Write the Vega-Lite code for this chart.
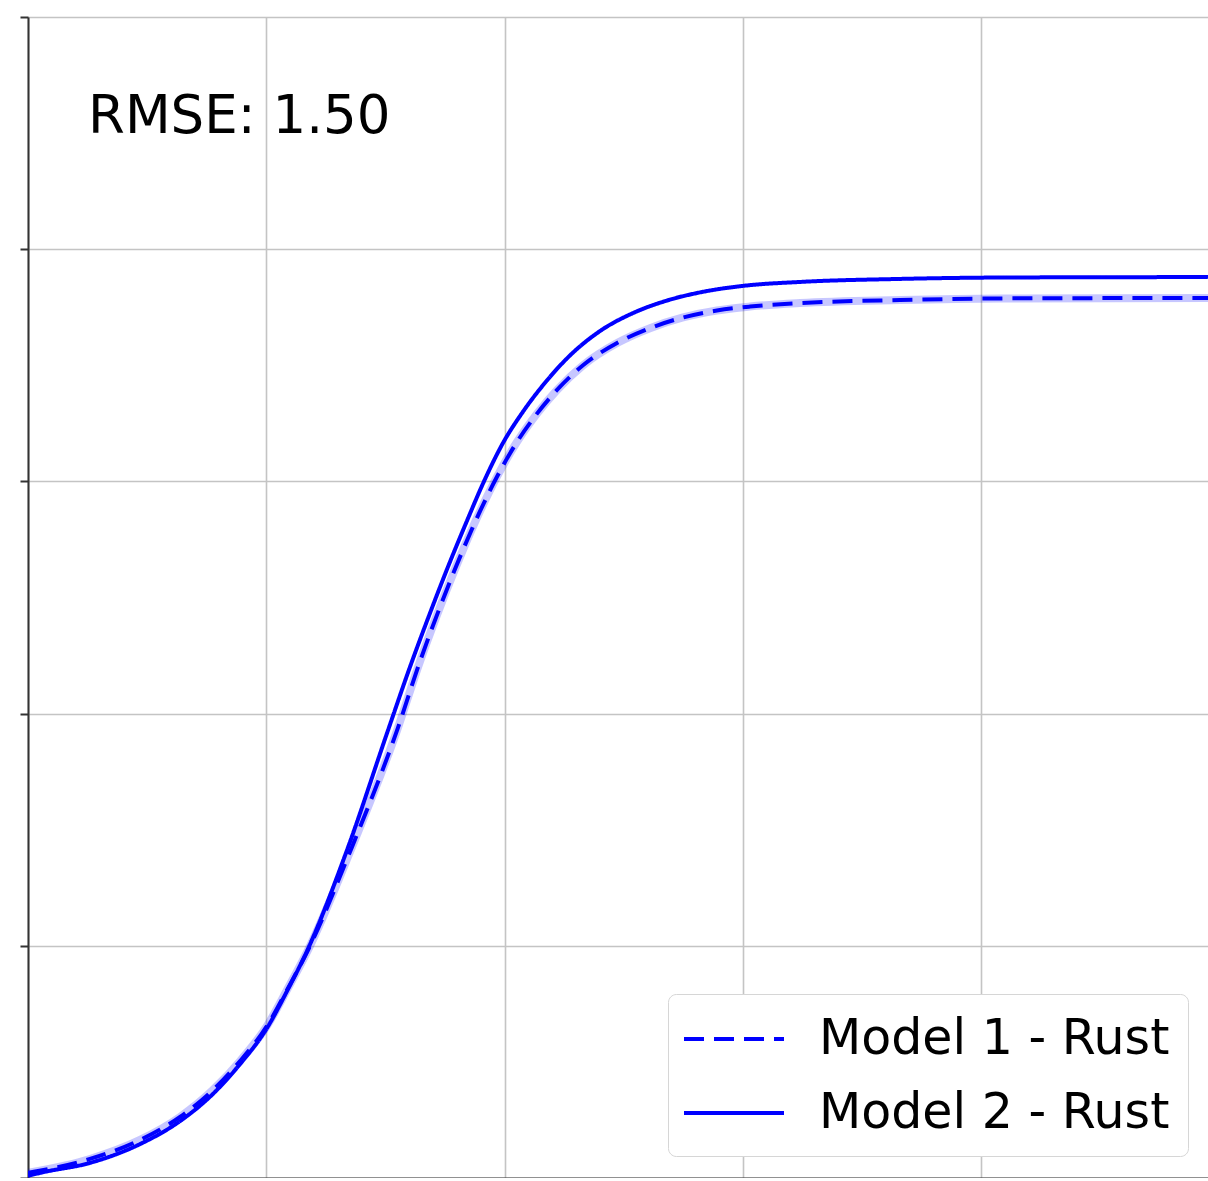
{
  "$schema": "https://vega.github.io/schema/vega-lite/v6.json",
  "autosize": {"type": "none"},
  "padding": {"left": 28, "top": 17, "right": 0, "bottom": 0},
  "width": 1180,
  "height": 1161,
  "background": "white",
  "config": {
    "view": {"stroke": null},
    "font": "DejaVu Sans",
    "axis": {
      "grid": true,
      "gridColor": "#c4c4c4",
      "gridWidth": 1.6,
      "labels": false,
      "ticks": true,
      "tickColor": "#333333",
      "tickSize": 8,
      "tickWidth": 2,
      "domainColor": "#333333",
      "domainWidth": 2,
      "title": null
    },
    "legend": {
      "orient": "none", "legendX": 640, "legendY": 977, "title": null,
      "symbolType": "M-2,0H2", "symbolSize": 2500, "symbolStrokeWidth": 4, "symbolOffset": 21,
      "labelFontSize": 49, "labelFont": "DejaVu Sans", "labelColor": "black", "labelLimit": 800,
      "labelOffset": 58, "rowPadding": 22, "padding": 18,
      "cornerRadius": 8, "strokeColor": "#d6d6d6", "fillColor": "white"
    }
  },
  "datasets": {
    "curves": [
      {"model": "Model 1 - Rust", "x": 0.0, "y": 0.022},
      {"model": "Model 1 - Rust", "x": 0.26, "y": 0.082},
      {"model": "Model 1 - Rust", "x": 0.47, "y": 0.164},
      {"model": "Model 1 - Rust", "x": 0.638, "y": 0.263},
      {"model": "Model 1 - Rust", "x": 0.776, "y": 0.379},
      {"model": "Model 1 - Rust", "x": 0.89, "y": 0.504},
      {"model": "Model 1 - Rust", "x": 1.003, "y": 0.655},
      {"model": "Model 1 - Rust", "x": 1.087, "y": 0.81},
      {"model": "Model 1 - Rust", "x": 1.171, "y": 0.973},
      {"model": "Model 1 - Rust", "x": 1.351, "y": 1.404},
      {"model": "Model 1 - Rust", "x": 1.549, "y": 1.929},
      {"model": "Model 1 - Rust", "x": 1.645, "y": 2.225},
      {"model": "Model 1 - Rust", "x": 1.729, "y": 2.459},
      {"model": "Model 1 - Rust", "x": 1.813, "y": 2.675},
      {"model": "Model 1 - Rust", "x": 1.897, "y": 2.872},
      {"model": "Model 1 - Rust", "x": 1.968, "y": 3.02},
      {"model": "Model 1 - Rust", "x": 2.052, "y": 3.17},
      {"model": "Model 1 - Rust", "x": 2.136, "y": 3.292},
      {"model": "Model 1 - Rust", "x": 2.22, "y": 3.394},
      {"model": "Model 1 - Rust", "x": 2.329, "y": 3.5},
      {"model": "Model 1 - Rust", "x": 2.472, "y": 3.596},
      {"model": "Model 1 - Rust", "x": 2.61, "y": 3.66},
      {"model": "Model 1 - Rust", "x": 2.749, "y": 3.706},
      {"model": "Model 1 - Rust", "x": 2.891, "y": 3.736},
      {"model": "Model 1 - Rust", "x": 3.03, "y": 3.753},
      {"model": "Model 1 - Rust", "x": 3.24, "y": 3.768},
      {"model": "Model 1 - Rust", "x": 3.659, "y": 3.781},
      {"model": "Model 1 - Rust", "x": 4.079, "y": 3.788},
      {"model": "Model 1 - Rust", "x": 4.952, "y": 3.79},
      {"model": "Model 2 - Rust", "x": 0.0, "y": 0.009},
      {"model": "Model 2 - Rust", "x": 0.05, "y": 0.022},
      {"model": "Model 2 - Rust", "x": 0.26, "y": 0.065},
      {"model": "Model 2 - Rust", "x": 0.47, "y": 0.146},
      {"model": "Model 2 - Rust", "x": 0.638, "y": 0.245},
      {"model": "Model 2 - Rust", "x": 0.776, "y": 0.362},
      {"model": "Model 2 - Rust", "x": 0.89, "y": 0.491},
      {"model": "Model 2 - Rust", "x": 1.003, "y": 0.646},
      {"model": "Model 2 - Rust", "x": 1.087, "y": 0.805},
      {"model": "Model 2 - Rust", "x": 1.171, "y": 0.978},
      {"model": "Model 2 - Rust", "x": 1.339, "y": 1.413},
      {"model": "Model 2 - Rust", "x": 1.511, "y": 1.929},
      {"model": "Model 2 - Rust", "x": 1.603, "y": 2.201},
      {"model": "Model 2 - Rust", "x": 1.687, "y": 2.433},
      {"model": "Model 2 - Rust", "x": 1.762, "y": 2.631},
      {"model": "Model 2 - Rust", "x": 1.842, "y": 2.83},
      {"model": "Model 2 - Rust", "x": 1.909, "y": 2.99},
      {"model": "Model 2 - Rust", "x": 1.993, "y": 3.165},
      {"model": "Model 2 - Rust", "x": 2.077, "y": 3.3},
      {"model": "Model 2 - Rust", "x": 2.178, "y": 3.435},
      {"model": "Model 2 - Rust", "x": 2.262, "y": 3.53},
      {"model": "Model 2 - Rust", "x": 2.401, "y": 3.648},
      {"model": "Model 2 - Rust", "x": 2.539, "y": 3.725},
      {"model": "Model 2 - Rust", "x": 2.682, "y": 3.779},
      {"model": "Model 2 - Rust", "x": 2.82, "y": 3.814},
      {"model": "Model 2 - Rust", "x": 3.0, "y": 3.842},
      {"model": "Model 2 - Rust", "x": 3.24, "y": 3.859},
      {"model": "Model 2 - Rust", "x": 3.659, "y": 3.872},
      {"model": "Model 2 - Rust", "x": 4.079, "y": 3.878},
      {"model": "Model 2 - Rust", "x": 4.952, "y": 3.88}
    ],
    "labels": [
      {"x": 0.252, "y": 4.5, "label": "RMSE: 1.50"}
    ]
  },
  "layer": [
    {
      "data": {"name": "curves"},
      "transform": [{"filter": "datum.model === 'Model 1 - Rust'"}],
      "mark": {"type": "line", "interpolate": "monotone", "strokeWidth": 8, "opacity": 0.22, "color": "#0000ff", "clip": true},
      "encoding": {
        "x": {"field": "x", "type": "quantitative", "scale": {"domain": [0, 4.9517], "nice": false, "zero": false}, "axis": {"values": [0, 1, 2, 3, 4]}},
        "y": {"field": "y", "type": "quantitative", "scale": {"domain": [0, 5], "nice": false}, "axis": {"values": [0, 1, 2, 3, 4, 5]}}
      }
    },
    {
      "data": {"name": "curves"},
      "mark": {"type": "line", "interpolate": "monotone", "strokeWidth": 4, "clip": true},
      "encoding": {
        "x": {"field": "x", "type": "quantitative"},
        "y": {"field": "y", "type": "quantitative"},
        "color": {
          "field": "model", "type": "nominal",
          "scale": {"domain": ["Model 1 - Rust", "Model 2 - Rust"], "range": ["#0000ff", "#0000ff"]}
        },
        "strokeDash": {
          "field": "model", "type": "nominal",
          "scale": {"domain": ["Model 1 - Rust", "Model 2 - Rust"], "range": [[20, 10], [1, 0]]}
        }
      }
    },
    {
      "mark": {"type": "rule", "color": "#333333", "strokeWidth": 2},
      "encoding": {"y": {"datum": 5}}
    },
    {
      "data": {"name": "labels"},
      "mark": {"type": "text", "align": "left", "baseline": "alphabetic", "fontSize": 53, "font": "DejaVu Sans", "color": "black"},
      "encoding": {
        "x": {"field": "x", "type": "quantitative"},
        "y": {"field": "y", "type": "quantitative"},
        "text": {"field": "label"}
      }
    }
  ]
}
